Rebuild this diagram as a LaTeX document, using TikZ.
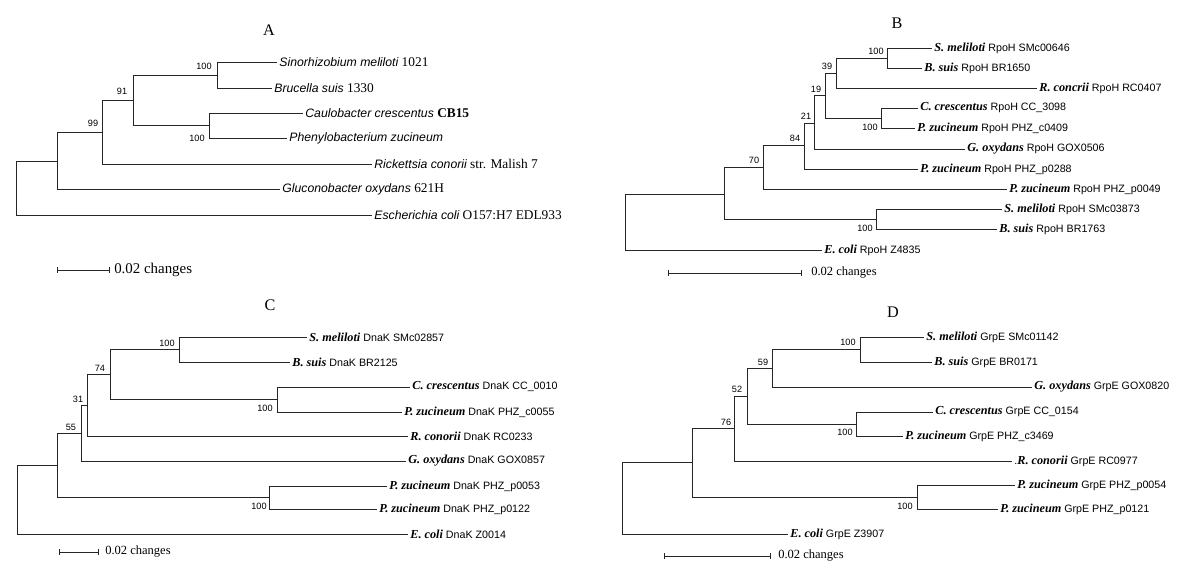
\documentclass[tikz,border=0pt]{standalone}
\usepackage{fontspec}
\setmainfont{Liberation Serif}
\setsansfont{Liberation Sans}
\usetikzlibrary{arrows.meta}
\newcommand{\bsp}[1]{{\rmfamily\bfseries\itshape\fontsize{8.7}{9}\selectfont #1}}
\newcommand{\isp}[1]{{\sffamily\itshape\fontsize{8.7}{9}\selectfont #1}}

\begin{document}
\begin{tikzpicture}[
    x=0.025cm,y=-0.025cm,
    branch/.style={draw=black!85,line width=0.6pt},
    leaf/.style={anchor=west,inner sep=1.5pt,font=\sffamily\fontsize{7.6}{9}\selectfont},
    leafA/.style={anchor=west,inner sep=1.5pt,font=\rmfamily\fontsize{9.5}{10}\selectfont},
    boot/.style={inner sep=0pt,font=\sffamily\fontsize{6.5}{7}\selectfont},
    panel/.style={inner sep=0pt,font=\rmfamily\fontsize{11.5}{12}\selectfont},
    sbar/.style={draw=black!85,line width=0.6pt,{Bar[width=4pt]}-{Bar[width=4pt]}},
    sbartext/.style={anchor=west,inner sep=0pt,font=\rmfamily\fontsize{8.9}{10}\selectfont},
  ]
    \useasboundingbox (0,0) rectangle (1200,571);

    % panel A
    \node[panel] (tA) at (269,30) {A};
    \coordinate (rA) at (16,188);
    \coordinate (a1) at (57,161);
    \coordinate (a2) at (102,132.5);
    \coordinate (a3) at (133,100.5);
    \coordinate (a4) at (217,75);
    \coordinate (a5) at (209,125.5);
    \node[leafA] (aSme) at (277,62) {\isp{Sinorhizobium meliloti} 1021};
    \node[leafA] (aBsu) at (272,88) {\isp{Brucella suis} 1330};
    \node[leafA] (aCcr) at (303,113) {\isp{Caulobacter crescentus} \textbf{CB15}};
    \node[leafA] (aPzu) at (287,138) {\isp{Phenylobacterium zucineum}};
    \node[leafA] (aRco) at (372,164) {\isp{Rickettsia conorii} str. Malish 7};
    \node[leafA] (aGox) at (280,189) {\isp{Gluconobacter oxydans} 621H};
    \node[leafA] (aEco) at (372,215) {\isp{Escherichia coli} O157:H7 EDL933};
    \foreach \p/\c in {rA/a1,rA/aEco,a1/a2,a1/aGox,a2/a3,a2/aRco,a3/a4,a3/a5,
                       a4/aSme,a4/aBsu,a5/aCcr,a5/aPzu}
      \draw[branch] (\p) |- (\c);
    \foreach \n/\x/\y/\t in {bA1/204/66/100,bA2/122/91/91,bA3/93/123/99,bA4/197/138/100}
      \node[boot] (\n) at (\x,\y) {\t};
    \coordinate (sA1) at (57,270);
    \coordinate (sA2) at (110,270);
    \draw[sbar] (sA1) -- (sA2);
    \node[sbartext,font=\rmfamily\fontsize{10.6}{12}\selectfont] (sAt) at (114,270) {0.02 changes};

    % panel B
    \node[panel] (tB) at (897,23) {B};
    \coordinate (rB) at (625,221.5);
    \coordinate (b1) at (724,194);
    \coordinate (b2) at (763,167.5);
    \coordinate (b3) at (804,145.5);
    \coordinate (b4) at (814,123);
    \coordinate (b5) at (825,95.5);
    \coordinate (b6) at (836,73);
    \coordinate (b7) at (887,58);
    \coordinate (b8) at (881,118);
    \coordinate (b9) at (876,219);
    \node[leaf] (bSme1) at (932,48) {\bsp{S. meliloti} RpoH SMc00646};
    \node[leaf] (bBsu1) at (922,68) {\bsp{B. suis} RpoH BR1650};
    \node[leaf] (bRco) at (1037,88) {\bsp{R. concrii} RpoH RC0407};
    \node[leaf] (bCcr) at (918,108) {\bsp{C. crescentus} RpoH CC\_3098};
    \node[leaf] (bPzu1) at (915,128) {\bsp{P. zucineum} RpoH PHZ\_c0409};
    \node[leaf] (bGox) at (965,149) {\bsp{G. oxydans} RpoH GOX0506};
    \node[leaf] (bPzu2) at (918,169) {\bsp{P. zucineum} RpoH PHZ\_p0288};
    \node[leaf] (bPzu3) at (1007,189) {\bsp{P. zucineum} RpoH PHZ\_p0049};
    \node[leaf] (bSme2) at (1002,209) {\bsp{S. meliloti} RpoH SMc03873};
    \node[leaf] (bBsu2) at (997,229) {\bsp{B. suis} RpoH BR1763};
    \node[leaf] (bEco) at (822,250) {\bsp{E. coli} RpoH Z4835};
    \foreach \p/\c in {rB/b1,rB/bEco,b1/b2,b1/b9,b2/b3,b2/bPzu3,b3/b4,b3/bPzu2,
                       b4/b5,b4/bGox,b5/b6,b5/b8,b6/b7,b6/bRco,b7/bSme1,b7/bBsu1,
                       b8/bCcr,b8/bPzu1,b9/bSme2,b9/bBsu2}
      \draw[branch] (\p) |- (\c);
    \foreach \n/\x/\y/\t in {bB1/876/51/100,bB2/827/66/39,bB3/816/89/19,bB4/806/116/21,
                             bB5/870/127/100,bB6/795/138/84,bB7/754/160/70,bB8/865/228/100}
      \node[boot] (\n) at (\x,\y) {\t};
    \coordinate (sB1) at (668,273);
    \coordinate (sB2) at (802,273);
    \draw[sbar] (sB1) -- (sB2);
    \node[sbartext] (sBt) at (811,273) {0.02 changes};

    % panel C
    \node[panel] (tC) at (270,305) {C};
    \coordinate (rC) at (17,499);
    \coordinate (c1) at (57,465);
    \coordinate (c2) at (81,433);
    \coordinate (c3) at (87,405);
    \coordinate (c4) at (110,374.5);
    \coordinate (c5) at (179,349.5);
    \coordinate (c6) at (277,399.5);
    \coordinate (c7) at (269,497.5);
    \node[leaf] (cSme) at (307,337) {\bsp{S. meliloti} DnaK SMc02857};
    \node[leaf] (cBsu) at (290,362) {\bsp{B. suis} DnaK BR2125};
    \node[leaf] (cCcr) at (410,387) {\bsp{C. crescentus} DnaK CC\_0010};
    \node[leaf] (cPzu1) at (402,412) {\bsp{P. zucineum} DnaK PHZ\_c0055};
    \node[leaf] (cRco) at (408,436) {\bsp{R. conorii} DnaK RC0233};
    \node[leaf] (cGox) at (406,461) {\bsp{G. oxydans} DnaK GOX0857};
    \node[leaf] (cPzu2) at (387,486) {\bsp{P. zucineum} DnaK PHZ\_p0053};
    \node[leaf] (cPzu3) at (377,509) {\bsp{P. zucineum} DnaK PHZ\_p0122};
    \node[leaf] (cEco) at (408,534) {\bsp{E. coli} DnaK Z0014};
    \foreach \p/\c in {rC/c1,rC/cEco,c1/c2,c1/c7,c2/c3,c2/cGox,c3/c4,c3/cRco,
                       c4/c5,c4/c6,c5/cSme,c5/cBsu,c6/cCcr,c6/cPzu1,c7/cPzu2,c7/cPzu3}
      \draw[branch] (\p) |- (\c);
    \foreach \n/\x/\y/\t in {bC1/167/343/100,bC2/100/368/74,bC3/78/399/31,bC4/71/427/55,
                             bC5/265/408/100,bC6/259/506/100}
      \node[boot] (\n) at (\x,\y) {\t};
    \coordinate (sC1) at (59,552);
    \coordinate (sC2) at (99,552);
    \draw[sbar] (sC1) -- (sC2);
    \node[sbartext] (sCt) at (105,552) {0.02 changes};

    % panel D
    \node[panel] (tD) at (893,312) {D};
    \coordinate (rD) at (622,498.5);
    \coordinate (d1) at (692,462.5);
    \coordinate (d2) at (734,428.5);
    \coordinate (d3) at (747,396.5);
    \coordinate (d4) at (772,368.5);
    \coordinate (d5) at (860,349.5);
    \coordinate (d6) at (856,424);
    \coordinate (d7) at (917,497);
    \node[leaf] (dSme) at (924,337) {\bsp{S. meliloti} GrpE SMc01142};
    \node[leaf] (dBsu) at (932,362) {\bsp{B. suis} GrpE BR0171};
    \node[leaf] (dGox) at (1032,387) {\bsp{G. oxydans} GrpE GOX0820};
    \node[leaf] (dCcr) at (933,412) {\bsp{C. crescentus} GrpE CC\_0154};
    \node[leaf] (dPzu1) at (903,436) {\bsp{P. zucineum} GrpE PHZ\_c3469};
    \node[leaf] (dRco) at (1012,461) {.\bsp{R. conorii} GrpE RC0977};
    \node[leaf] (dPzu2) at (1015,485) {\bsp{P. zucineum} GrpE PHZ\_p0054};
    \node[leaf] (dPzu3) at (998,509) {\bsp{P. zucineum} GrpE PHZ\_p0121};
    \node[leaf] (dEco) at (788,534) {\bsp{E. coli} GrpE Z3907};
    \foreach \p/\c in {rD/d1,rD/dEco,d1/d2,d1/d7,d2/d3,d2/dRco,d3/d4,d3/d6,
                       d4/d5,d4/dGox,d5/dSme,d5/dBsu,d6/dCcr,d6/dPzu1,d7/dPzu2,d7/dPzu3}
      \draw[branch] (\p) |- (\c);
    \foreach \n/\x/\y/\t in {bD1/848/342/100,bD2/763/362/59,bD3/737/389/52,bD4/726/422/76,
                             bD5/845/432/100,bD6/905/506/100}
      \node[boot] (\n) at (\x,\y) {\t};
    \coordinate (sD1) at (664,556);
    \coordinate (sD2) at (771,556);
    \draw[sbar] (sD1) -- (sD2);
    \node[sbartext] (sDt) at (778,556) {0.02 changes};
  \end{tikzpicture}
\end{document}
